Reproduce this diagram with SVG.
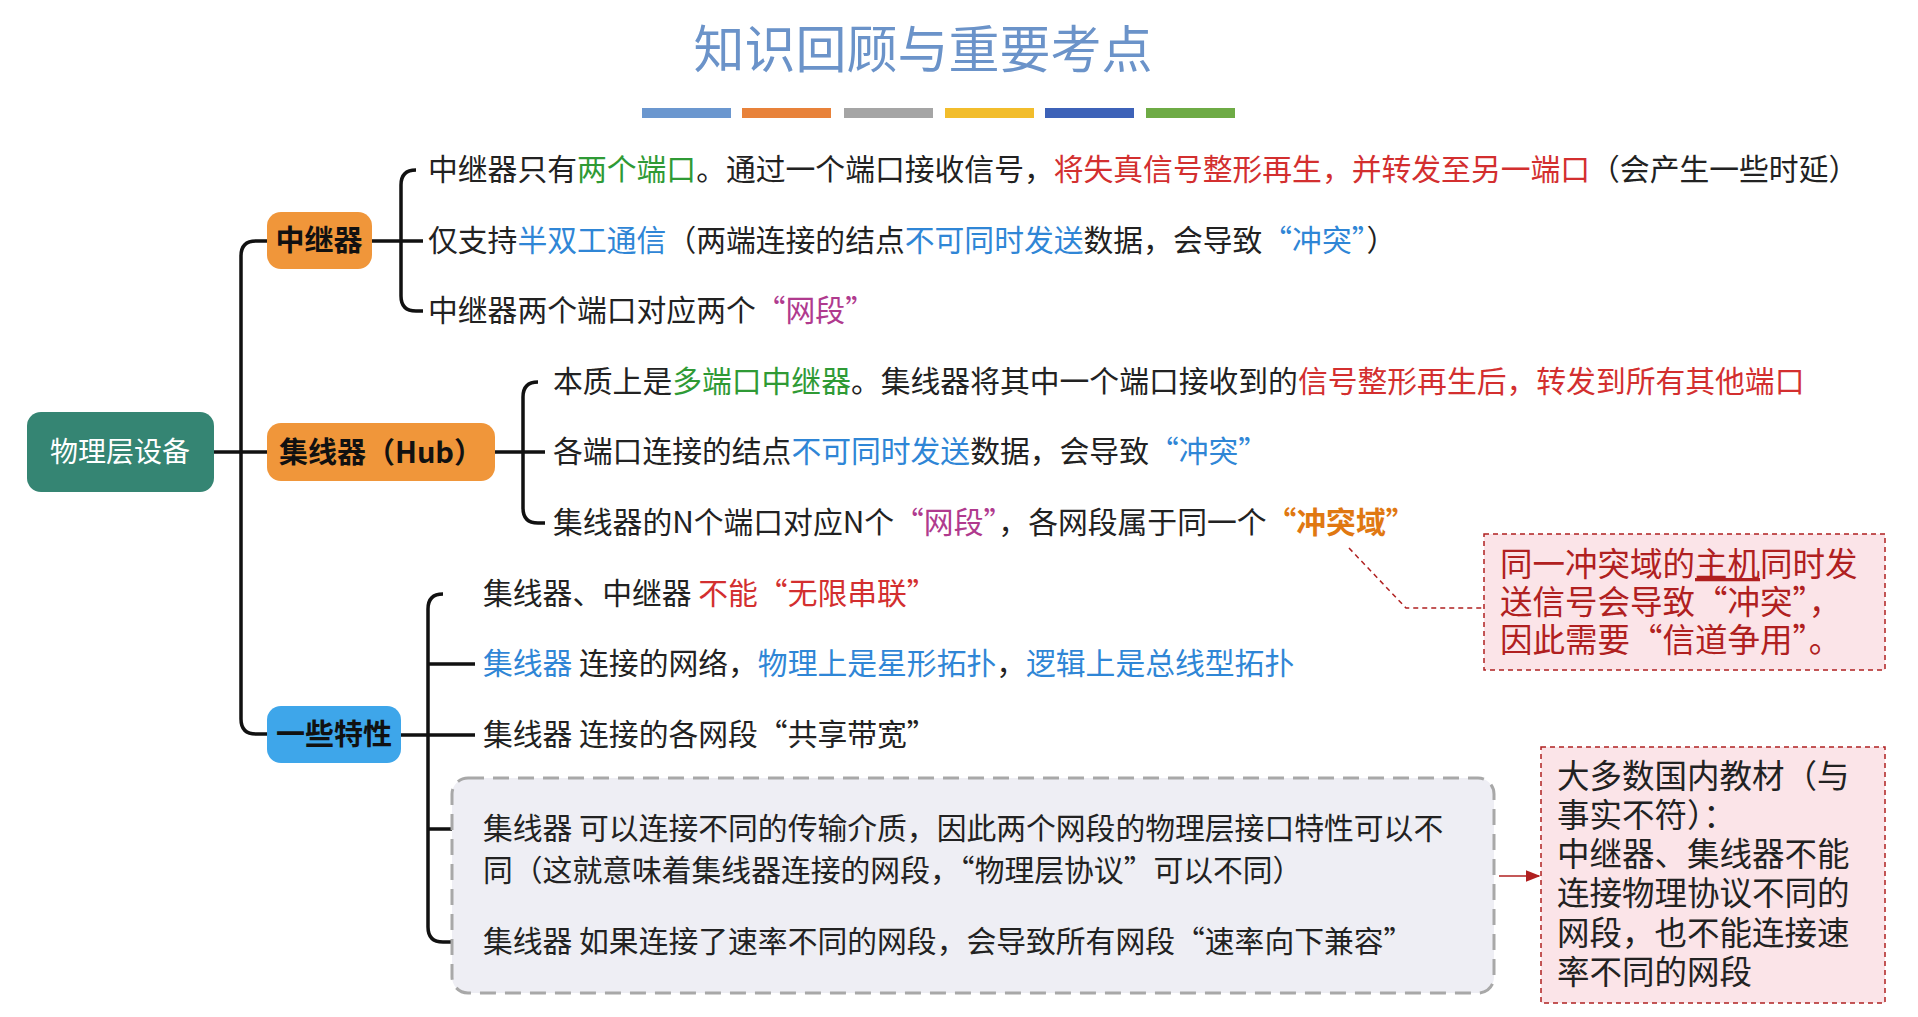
<svg xmlns="http://www.w3.org/2000/svg" width="1918" height="1017" viewBox="0 0 1918 1017">
<style>
text{font-family:"Noto Sans CJK SC","Noto Sans",sans-serif}
.t{font-size:29.8px;fill:#222}
.g{fill:#2f9a35}.r{fill:#d32f2f}.b{fill:#2f86d6}.p{fill:#b03a8e}.o{fill:#e07812;font-weight:bold}
.ln{fill:none;stroke:#111;stroke-width:3.5}
.nt{font-size:29px;font-weight:bold;fill:#111}
.pk{font-size:32.5px}
</style>
<rect width="1918" height="1017" fill="#fff"/>
<text x="923" y="68" font-size="51" fill="#6b93c9" text-anchor="middle">知识回顾与重要考点</text>
<g id="bars">
<rect x="642" y="108" width="89" height="10" fill="#6b97cf"/>
<rect x="742" y="108" width="89" height="10" fill="#e8823a"/>
<rect x="844" y="108" width="89" height="10" fill="#a5a5a5"/>
<rect x="945" y="108" width="89" height="10" fill="#f2bd2c"/>
<rect x="1045" y="108" width="89" height="10" fill="#3d62b8"/>
<rect x="1146" y="108" width="89" height="10" fill="#6eab45"/>
</g>
<defs><marker id="ar" markerWidth="10" markerHeight="8" refX="9" refY="4" orient="auto"><path d="M0,0L10,4L0,8z" fill="#b02020"/></marker></defs>
<g id="connectors">
<path class="ln" stroke-width="5" d="M214,452H267"/>
<path class="ln" stroke-width="5" d="M267,241H256Q241,241 241,256V719Q241,734 256,734H267"/>
<path class="ln" d="M372,241H401M416,170Q401,170 401,185V296Q401,311 416,311H423M401,241H423"/>
<path class="ln" d="M495,452H523M538,382Q523,382 523,397V508Q523,523 538,523H545M523,452H545"/>
<path class="ln" d="M401,735H428M443,594Q428,594 428,609V927Q428,942 443,942H475M428,664Q428,664 443,664H475M428,735H475M428,829Q428,829 443,829H475"/>
<path d="M1349,548L1406,608H1484" fill="none" stroke="#b02020" stroke-width="1.5" stroke-dasharray="5,4"/>
<path d="M1499,876H1539" fill="none" stroke="#b02020" stroke-width="1.5" marker-end="url(#ar)"/>
</g>
<g id="root"><rect x="27" y="412" width="187" height="80" rx="14" fill="#358573"/><text x="120" y="462" font-size="28" fill="#fff" text-anchor="middle">物理层设备</text></g>
<g id="repeater"><rect x="267" y="212" width="105" height="57" rx="14" fill="#f0963a"/><text class="nt" x="319" y="251" text-anchor="middle">中继器</text></g>
<g id="hub"><rect x="267" y="423" width="228" height="58" rx="14" fill="#f0963a"/><text class="nt" x="381" y="463" text-anchor="middle">集线器（Hub）</text></g>
<g id="features"><rect x="267" y="706" width="134" height="57" rx="14" fill="#3ea6ea"/><text class="nt" x="334" y="745" text-anchor="middle">一些特性</text></g>
<g id="repeater-items">
<text class="t" x="428" y="180">中继器只有<tspan class="g">两个端口</tspan>。通过一个端口接收信号，<tspan class="r">将失真信号整形再生，并转发至另一端口</tspan>（会产生一些时延）</text>
<text class="t" x="428" y="251">仅支持<tspan class="b">半双工通信</tspan>（两端连接的结点<tspan class="b">不可同时发送</tspan>数据，会导致<tspan class="b">“冲突”</tspan>）</text>
<text class="t" x="428" y="321">中继器两个端口对应两个<tspan class="p">“网段”</tspan></text>
</g>
<g id="hub-items">
<text class="t" x="553" y="392">本质上是<tspan class="g">多端口中继器</tspan>。集线器将其中一个端口接收到的<tspan class="r">信号整形再生后，转发到所有其他端口</tspan></text>
<text class="t" x="553" y="462">各端口连接的结点<tspan class="b">不可同时发送</tspan>数据，会导致<tspan class="b">“冲突”</tspan></text>
<text class="t" x="553" y="533">集线器的N个端口对应N个<tspan class="p">“网段”</tspan>，各网段属于同一个<tspan class="o">“冲突域”</tspan></text>
</g>
<g id="feature-items">
<rect x="452" y="778" width="1042" height="215" rx="16" fill="#eeeef4" stroke="#a8a8a8" stroke-width="3" stroke-dasharray="16,9"/>
<text class="t" x="483" y="604">集线器、中继器 <tspan class="r">不能“无限串联”</tspan></text>
<text class="t" x="483" y="674"><tspan class="b">集线器</tspan> 连接的网络，<tspan class="b">物理上是星形拓扑</tspan>，<tspan class="b">逻辑上是总线型拓扑</tspan></text>
<text class="t" x="483" y="745">集线器 连接的各网段“共享带宽”</text>
<text class="t" x="483" y="839">集线器 可以连接不同的传输介质，因此两个网段的物理层接口特性可以不</text>
<text class="t" x="483" y="881">同（这就意味着集线器连接的网段，“物理层协议”可以不同）</text>
<text class="t" x="483" y="952">集线器 如果连接了速率不同的网段，会导致所有网段“速率向下兼容”</text>
</g>
<g id="note1">
<rect x="1484" y="534" width="401" height="136" fill="#fbe4e8" stroke="#b02020" stroke-width="1.5" stroke-dasharray="5,4"/>
<text class="pk" fill="#b02020" x="1500" y="576">同一冲突域的<tspan text-decoration="underline">主机</tspan>同时发</text>
<text class="pk" fill="#b02020" x="1500" y="614">送信号会导致“冲突”，</text>
<text class="pk" fill="#b02020" x="1500" y="652">因此需要“信道争用”。</text>
</g>
<g id="note2">
<rect x="1541" y="747" width="344" height="256" fill="#fbe4e8" stroke="#b02020" stroke-width="1.5" stroke-dasharray="5,4"/>
<text class="pk" fill="#222" x="1557" y="788">大多数国内教材（与</text>
<text class="pk" fill="#222" x="1557" y="827">事实不符）：</text>
<text class="pk" fill="#222" x="1557" y="866">中继器、集线器不能</text>
<text class="pk" fill="#222" x="1557" y="905">连接物理协议不同的</text>
<text class="pk" fill="#222" x="1557" y="945">网段，也不能连接速</text>
<text class="pk" fill="#222" x="1557" y="984">率不同的网段</text>
</g>
</svg>
